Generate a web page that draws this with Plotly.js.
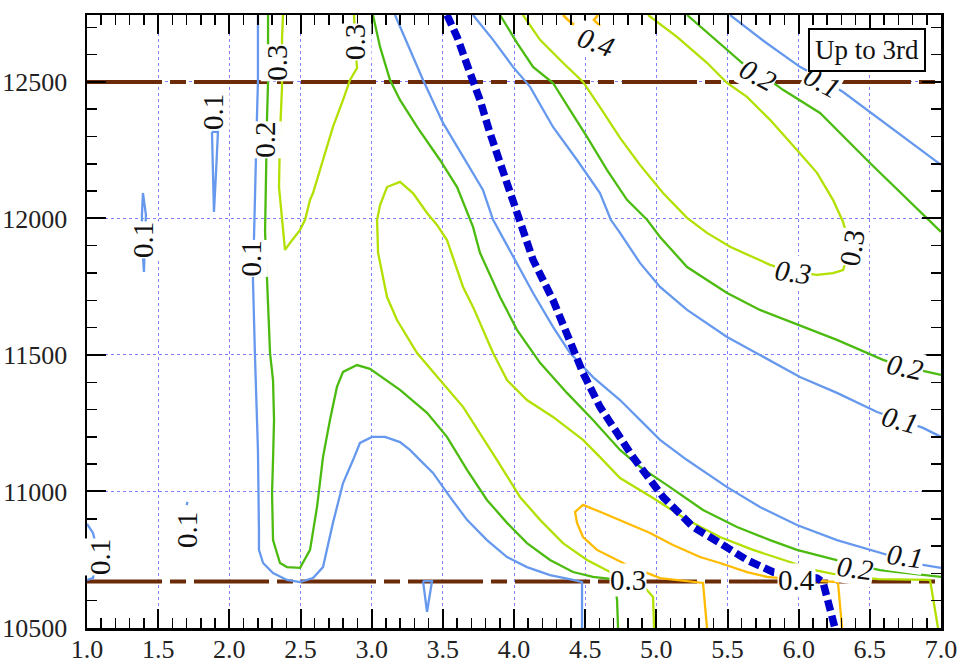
<!DOCTYPE html>
<html><head><meta charset="utf-8">
<script src="https://cdn.plot.ly/plotly-3.0.1.min.js"></script>
<style>html,body{margin:0;padding:0;background:#fff;} #chart{width:958px;height:667px;}</style>
</head><body><div id="chart"></div>
<script>
// ---- contour level 0.1 (blue) ----
const blue1X = [2.201,2.201,2.194,2.187,2.173,2.166,2.180,2.201,2.208,2.208,2.237,2.307,2.405,2.497,2.588,2.658,2.728,2.799,2.869,2.918,3.002,3.094,3.199,3.269,3.340,3.431,3.550,3.670,3.810,3.951,4.091,4.253,4.415,4.478,4.478];
const blue1Y = [12745,12500,12372,12196,11951,11775,11500,11152,10859,10786,10738,10701,10676,10668,10683,10723,10885,11031,11115,11178,11200,11200,11181,11152,11115,11068,10980,10896,10822,10760,10723,10694,10676,10668,10500];
const blue2X = [3.164,3.248,3.361,3.501,3.642,3.782,3.853,3.993,4.134,4.274,4.394,4.555,4.745,4.885,5.026,5.216,5.497,5.728,5.988,6.269,6.621,6.747,6.874,7.000];
const blue2Y = [12745,12643,12507,12350,12225,12104,11995,11859,11727,11603,11507,11419,11335,11262,11189,11115,11016,10943,10877,10822,10767,10749,10731,10720];
const blue3X = [3.712,3.853,3.993,4.113,4.274,4.443,4.604,4.680,4.745,4.885,5.026,5.216,5.497,5.750,6.009,6.269,6.551,6.712,6.874,7.000];
const blue3Y = [12745,12654,12555,12482,12335,12214,12093,11995,11947,11837,11749,11665,11566,11493,11419,11361,11291,11262,11233,11200];
const blue4X = [5.518,5.764,6.009,6.150,6.312,6.642,7.000];
const blue4Y = [12745,12646,12555,12515,12463,12335,12196];
const blueVX = [3.361,3.389,3.424,3.361];
const blueVY = [10672,10559,10672,10672];
const blueEdgeX = [1.000,1.042,1.077,1.042,1.000];
const blueEdgeY = [10881,10848,10775,10683,10676];
const blueA_X = [1.393,1.414,1.407,1.400,1.386,1.386,1.393];
const blueA_Y = [12093,12013,11921,11804,11921,12013,12093];
const blueB_X = [1.878,1.885,1.892,1.906,1.920,1.878];
const blueB_Y = [12317,12163,12024,12163,12317,12317];
const blueDotX = [1.700,1.706];
const blueDotY = [10950,10962];
// ---- contour level 0.2 (green) ----
const green1X = [2.272,2.272,2.265,2.258,2.251,2.265,2.286,2.307,2.314,2.307,2.300,2.307,2.356,2.405,2.497,2.567,2.616,2.658,2.707,2.756,2.799,2.897,2.988,3.199,3.389,3.529,3.670,3.810,3.951,4.091,4.253,4.415,4.555,4.689,4.710,4.724,4.731];
const green1Y = [12745,12500,12372,12196,11951,11775,11507,11408,11262,11115,10994,10822,10738,10723,10720,10786,10943,11126,11262,11383,11438,11463,11449,11372,11288,11200,11079,10969,10885,10811,10749,10705,10687,10679,10657,10603,10500];
const green2X = [3.009,3.059,3.129,3.199,3.319,3.480,3.600,3.712,3.761,3.902,4.021,4.183,4.372,4.555,4.745,4.885,5.096,5.328,5.567,5.799,5.988,6.220,6.396,6.572,7.000];
const green2Y = [12745,12628,12507,12434,12335,12214,12115,11969,11874,11712,11592,11471,11361,11262,11152,11090,11016,10932,10870,10822,10786,10756,10731,10712,10687];
const green3X = [3.902,4.021,4.134,4.274,4.394,4.513,4.653,4.794,4.935,5.026,5.216,5.497,5.728,6.031,6.269,6.593,6.747,6.937,7.000];
const green3Y = [12745,12643,12555,12496,12397,12299,12178,12068,11995,11932,11822,11727,11665,11603,11555,11482,11456,11434,11427];
const green4X = [5.216,5.602,5.714,5.890,6.150,6.501,7.000];
const green4Y = [12745,12570,12537,12471,12386,12203,11951];
// ---- contour level 0.3 (yellow-green) ----
const yg1X = [2.377,2.370,2.370,2.356,2.349,2.370,2.391,2.426,2.497,2.532,2.567,2.588,2.658,2.728,2.799,2.848,2.897,2.883,2.876];
const yg1Y = [12745,12654,12478,12313,12115,12006,11885,11910,11958,11995,12068,12093,12214,12335,12434,12507,12551,12654,12745];
const yg2X = [4.984,4.977,4.885,4.675,4.513,4.344,4.183,4.042,3.881,3.761,3.642,3.480,3.319,3.178,3.108,3.045,3.038,3.059,3.108,3.199,3.290,3.389,3.459,3.529,3.642,3.712,3.782,3.853,3.951,4.091,4.274,4.485,4.604,4.745,4.977,5.216,5.447,5.679,5.960,6.080,6.241,6.558,6.923,6.979];
const yg2Y = [10500,10614,10668,10705,10749,10811,10896,10980,11115,11214,11310,11408,11507,11628,11712,11874,11995,12049,12115,12134,12093,12020,11976,11921,11749,11676,11592,11507,11408,11335,11273,11189,11126,11049,10976,10896,10833,10786,10738,10716,10698,10679,10676,10500];
const yg3X = [4.063,4.183,4.344,4.485,4.604,4.745,4.885,5.047,5.216,5.356,5.518,5.679,5.799,5.960,6.129,6.241,6.312,6.361,6.312,6.241,6.129,5.988,5.799,5.637,5.497,5.356,5.145,4.942];
const yg3Y = [12745,12654,12570,12500,12408,12295,12196,12093,12002,11947,11896,11859,11830,11804,11793,11800,11811,11892,11987,12068,12167,12251,12361,12445,12496,12570,12665,12745];
// ---- contour level 0.4 (orange) ----
const orange1X = [4.344,4.379,4.422];
const orange1Y = [12745,12727,12709];
const orange2X = [4.590,4.562,4.604];
const orange2Y = [12745,12727,12705];
const orange3X = [5.356,5.328,5.026,4.794,4.724,4.583,4.485,4.443,4.429,4.485,4.625,4.794,4.956,5.117,5.307,5.447,5.637,5.778,6.009,6.171,6.276,6.305];
const orange3Y = [10500,10665,10683,10731,10749,10786,10833,10885,10925,10951,10921,10885,10848,10804,10760,10738,10705,10687,10676,10672,10668,10500];
// ---- thick dashed boundary ----
const boundX = [3.529,3.600,3.691,3.761,3.831,3.923,4.021,4.134,4.274,4.394,4.485,4.604,4.724,4.836,5.047,5.258,5.447,5.637,5.820,6.009,6.129,6.171,6.213,6.255];
const boundY = [12745,12665,12533,12434,12313,12167,12020,11848,11701,11555,11434,11310,11214,11126,10980,10870,10811,10749,10705,10690,10683,10668,10584,10500];
// ---- horizontal reference lines ----
const refLevels = [12500, 10670];
const xSpan = [1.0, 7.0];
// ---- contour labels ----
const labelText  = ['0.4','0.2','0.1','0.3','0.3','0.2','0.1','0.1','0.1','0.1','0.1','0.3','0.3','0.2','0.1','0.1','0.2','0.4','0.3'];
const labelX     = [4.576,5.714,6.165,2.883,2.335,2.251,2.155,1.885,1.393,1.703,1.091,6.375,5.960,6.747,6.712,6.747,6.396,5.988,4.801];
const labelY     = [12647,12526,12500,12646,12570,12288,11855,12390,11921,10859,10760,11892,11804,11456,11262,10764,10720,10676,10676];
const labelAngle = [20,28,28,-90,-90,-90,-90,-90,-90,-90,-90,-80,8,12,15,8,8,0,0];
const labelItalic= [1,1,1,0,0,0,0,0,0,0,0,0,1,1,1,1,1,0,0];

const C_BLUE='#6699ee', C_GREEN='#4cbb10', C_YG='#b2e000', C_OR='#ffbb00';
const traces=[];
function ln(x,y,color,width,dash){traces.push({type:'scatter',mode:'lines',x:x,y:y,line:{color:color,width:width,dash:dash||'solid'},hoverinfo:'skip',showlegend:false});}
refLevels.forEach(v=>ln(xSpan,[v,v],'#6b2a08',4,'75px,8px,16px,8px'));
const W=2.3;
ln(blue1X,blue1Y,C_BLUE,W); ln(blue2X,blue2Y,C_BLUE,W); ln(blue3X,blue3Y,C_BLUE,W); ln(blue4X,blue4Y,C_BLUE,W);
ln(blueVX,blueVY,C_BLUE,W); ln(blueEdgeX,blueEdgeY,C_BLUE,W); ln(blueA_X,blueA_Y,C_BLUE,W); ln(blueB_X,blueB_Y,C_BLUE,W); ln(blueDotX,blueDotY,C_BLUE,W);
ln(green1X,green1Y,C_GREEN,W); ln(green2X,green2Y,C_GREEN,W); ln(green3X,green3Y,C_GREEN,W); ln(green4X,green4Y,C_GREEN,W);
ln(yg1X,yg1Y,C_YG,W); ln(yg2X,yg2Y,C_YG,W); ln(yg3X,yg3Y,C_YG,W);
ln(orange1X,orange1Y,C_OR,2.6); ln(orange2X,orange2Y,C_OR,2.6); ln(orange3X,orange3Y,C_OR,W);
ln(boundX,boundY,'#0000cc',7.5,'11px,5px');

const SERIF='Liberation Serif, Times New Roman, serif';
const annotations = labelText.map((t,i)=>({x:labelX[i],y:labelY[i],xref:'x',yref:'y',text:t,showarrow:false,textangle:labelAngle[i],
  font:{family:SERIF,size:29,color:'#111',style:labelItalic[i]?'italic':'normal'},bgcolor:'white',borderpad:0}));
annotations.push({xref:'paper',yref:'paper',x:0.982,y:0.979,xanchor:'right',yanchor:'top',text:'Up to 3rd',showarrow:false,
  font:{family:SERIF,size:27,color:'#111'},bgcolor:'white',bordercolor:'black',borderwidth:2,borderpad:5});

const axBase = {ticks:'inside',ticklen:19,tickwidth:2,tickcolor:'black',showline:true,linecolor:'black',linewidth:2.5,mirror:'ticks',
  showgrid:true,gridcolor:'#8080ff',griddash:'dot',gridwidth:1,zeroline:false,
  tickfont:{family:SERIF,size:26,color:'#222'}};
const layout = {
  width:958,height:667,margin:{l:87,r:17,t:15,b:39},paper_bgcolor:'white',plot_bgcolor:'white',showlegend:false,
  xaxis:Object.assign({},axBase,{range:[1,7],tick0:1,dtick:0.5,tickformat:'.1f',ticklabelstandoff:-4,
     minor:{dtick:0.1,ticks:'inside',ticklen:10,tickwidth:1.5,tickcolor:'black',showgrid:false}}),
  yaxis:Object.assign({},axBase,{range:[10500,12745],tick0:10500,dtick:500,tickformat:'d',ticklabelstandoff:12,
     minor:{dtick:100,ticks:'inside',ticklen:10,tickwidth:1.5,tickcolor:'black',showgrid:false}}),
  annotations:annotations
};
Plotly.newPlot('chart',traces,layout,{displayModeBar:false,staticPlot:true});
</script></body></html>
